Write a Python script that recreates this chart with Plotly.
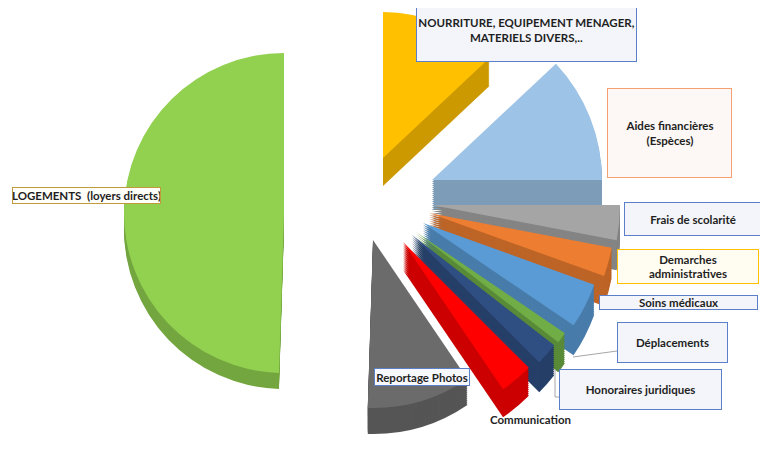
import plotly.graph_objects as go

# ---- data ----
labels = [
    "NOURRITURE, EQUIPEMENT MENAGER, MATERIELS DIVERS,..",
    "Aides financières (Espèces)",
    "Frais de scolarité",
    "Demarches administratives",
    "Soins médicaux",
    "Déplacements",
    "Honoraires juridiques",
    "Communication",
    "Reportage Photos",
    "LOGEMENTS  (loyers directs)",
]
values = [13, 12, 3, 2.5, 4, 1, 2, 3, 10, 49.5]

# ---- style ----
colors = ["#FFC000", "#9DC3E6", "#A5A5A5", "#ED7D31", "#5B9BD5",
          "#70AD47", "#2F4F82", "#FF0000", "#6B6B6B", "#92D050"]
# exploded position (window px of the slice tip), radius and depth of every slice
explode = [
    (383, 158, 146, 28),   # nourriture
    (432, 180, 170, 30),   # aides
    (432, 205, 188, 30),   # frais
    (429, 213, 186, 30),   # demarches
    (423, 223, 182, 30),   # soins
    (416, 232, 180, 30),   # deplacements
    (412, 235, 180, 30),   # honoraires
    (403, 242, 178, 28),   # communication
    (373, 240, 168, 26),   # reportage
    (284, 213, 160, 16),   # logements
]
draw_order = [9, 0, 1, 2, 3, 4, 5, 6, 7, 8]


def darken(hexc, f):
    hexc = hexc.lstrip("#")
    r, g, b = (int(hexc[i:i + 2], 16) for i in (0, 2, 4))
    return "#%02x%02x%02x" % (int(r * f), int(g * f), int(b * f))


W, H = 768, 452
OFF = 8          # page offset of the plot inside the browser window
STEP = 2
CLEAR = "rgba(0,0,0,0)"

fig = go.Figure()
for k in draw_order:
    ax, ay, r, depth = explode[k]
    for shift in range(depth, -1, -STEP):
        col = colors[k] if shift == 0 else darken(colors[k], 0.8)
        cols = [CLEAR] * len(values)
        cols[k] = col
        cx = ax - OFF
        cy = ay - OFF + shift
        fig.add_trace(go.Pie(
            labels=labels,
            values=values,
            sort=False,
            direction="clockwise",
            rotation=0,
            textinfo="none",
            hoverinfo="none",
            showlegend=False,
            marker=dict(colors=cols, line=dict(width=0)),
            domain=dict(x=[max(0, (cx - r) / W), min(1, (cx + r) / W)],
                        y=[max(0, 1 - (cy + r) / H), min(1, 1 - (cy - r) / H)]),
        ))

FONT = dict(family="Lato, 'Open Sans', sans-serif", size=11.5, color="#1F1F1F")


def px(x):
    return (x - OFF) / W


def py(y):
    return 1 - (y - OFF) / H


def box(text, x0, y0, x1, y1, border, bg):
    fig.add_annotation(
        text="<b>" + text + "</b>",
        xref="paper", yref="paper",
        x=px(x0), y=py(y0),
        xanchor="left", yanchor="top",
        width=x1 - x0 - 2, height=y1 - y0 - 2,
        align="center", valign="middle",
        showarrow=False,
        bordercolor=border, borderwidth=1, borderpad=0,
        bgcolor=bg, font=FONT,
    )


BLUE = "#5B7FC8"
BLUEBG = "#F3F5FA"
box("NOURRITURE, EQUIPEMENT MENAGER,<br>MATERIELS DIVERS,..", 416, -2, 637, 62, BLUE, BLUEBG)
box("Aides financières<br>(Espèces)", 607, 88, 732, 178, "#F4A070", "#FDF8F5")
box("Frais de scolarité", 624, 202, 762, 236, BLUE, BLUEBG)
box("Demarches<br>administratives", 617, 249, 759, 284, "#FFC000", "#FFFCF2")
box("Soins médicaux", 599, 295, 758, 310, BLUE, BLUEBG)
box("Déplacements", 617, 322, 728, 363, BLUE, BLUEBG)
box("Honoraires juridiques", 559, 369, 722, 410, BLUE, BLUEBG)
box("Reportage Photos", 374, 368, 470, 386, BLUE, "#F7F8FB")
box("LOGEMENTS  (loyers directs)", 12, 187, 161, 204, "#C09A3C", "#FFFEF9")

fig.add_annotation(text="<b>Communication</b>", xref="paper", yref="paper",
                   x=px(530), y=py(419), xanchor="center", yanchor="middle",
                   showarrow=False, font=FONT)

# leader lines
for (x0, y0, x1, y1) in [(573, 357, 617, 351), (555, 369, 555, 397), (555, 397, 559, 397)]:
    fig.add_shape(type="line", xref="paper", yref="paper",
                  x0=px(x0), y0=py(y0), x1=px(x1), y1=py(y1),
                  line=dict(color="#A6A6A6", width=1))

fig.update_layout(
    width=W, height=H,
    margin=dict(l=0, r=0, t=0, b=0),
    paper_bgcolor="white", plot_bgcolor="white",
)

fig.write_html("out.html")
